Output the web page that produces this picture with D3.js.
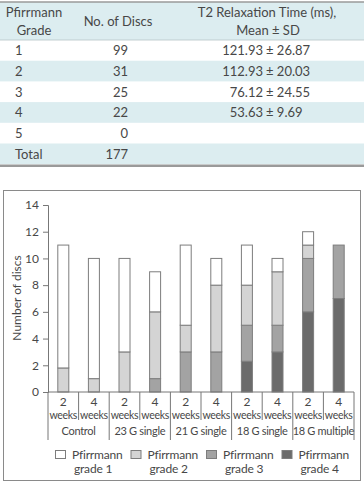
<!DOCTYPE html>
<html>
<head>
<meta charset="utf-8">
<script src="https://cdn.jsdelivr.net/npm/d3@7"></script>
<style>
  body { margin: 0; background: #fff; }
  text { font-family: Lato, "Noto Sans", sans-serif; fill: #474747; }
</style>
</head>
<body>
<div id="chart"></div>
<script>
// table data
const tableGrades = ["1", "2", "3", "4", "5", "Total"];
const tableDiscs = [99, 31, 25, 22, 0, 177];
const tableMeans = ["121.93", "112.93", "76.12", "53.63", "", ""];
const tableSDs = ["26.87", "20.03", "24.55", "9.69", "", ""];

// chart data
const weeks = ["2", "4", "2", "4", "2", "4", "2", "4", "2", "4"];
const groups = ["Control", "23 G single", "21 G single", "18 G single", "18 G multiple"];
const grades = ["Pfirrmann grade 1", "Pfirrmann grade 2", "Pfirrmann grade 3", "Pfirrmann grade 4"];
const grade1 = [9.2, 9, 7, 3, 6, 2, 3, 1, 1, 0];
const grade2 = [1.8, 1, 3, 5, 2, 5, 3, 4, 1, 0];
const grade3 = [0, 0, 0, 1, 3, 3, 2.7, 2, 4, 4];
const grade4 = [0, 0, 0, 0, 0, 0, 2.3, 3, 6, 7];
const yTicks = [0, 2, 4, 6, 8, 10, 12, 14];

const colors = ["#ffffff", "#d4d4d4", "#a3a3a3", "#6b6b6b"];
const W = 364, H = 484;

const svg = d3.select("#chart").append("svg")
    .attr("width", W)
    .attr("height", H);

// ---------- table ----------
const tbl = svg.append("g");
const rowH = 20.7, headTop = 2, headBottom = 40;
const blue = "#dcedf0";

tbl.append("rect").attr("x", 0).attr("y", headTop).attr("width", W).attr("height", headBottom - headTop).attr("fill", blue);
tableGrades.forEach((g, i) => {
    if (i % 2 == 1) {
        tbl.append("rect").attr("x", 0).attr("y", headBottom + i * rowH)
            .attr("width", W).attr("height", rowH).attr("fill", blue);
    }
});
tbl.append("line").attr("x1", 0).attr("x2", W).attr("y1", headTop).attr("y2", headTop)
    .attr("stroke", "#9a9a9a").attr("stroke-width", 1.5);
tbl.append("line").attr("x1", 0).attr("x2", W).attr("y1", headBottom).attr("y2", headBottom)
    .attr("stroke", "#b5c4c7").attr("stroke-width", 0.8);
const tblBottom = headBottom + tableGrades.length * rowH + 1.5;
tbl.append("line").attr("x1", 0).attr("x2", W).attr("y1", tblBottom).attr("y2", tblBottom)
    .attr("stroke", "#9a9a9a").attr("stroke-width", 2.5);

const headFont = "13px";
tbl.append("text").attr("x", 34).attr("y", 17).attr("text-anchor", "middle").style("font-size", headFont).text("Pfirrmann");
tbl.append("text").attr("x", 34).attr("y", 35).attr("text-anchor", "middle").style("font-size", headFont).text("Grade");
tbl.append("text").attr("x", 118).attr("y", 26).attr("text-anchor", "middle").style("font-size", headFont).text("No. of Discs");
tbl.append("text").attr("x", 267).attr("y", 17).attr("text-anchor", "middle").style("font-size", headFont).text("T2 Relaxation Time (ms),");
tbl.append("text").attr("x", 268).attr("y", 35).attr("text-anchor", "middle").style("font-size", headFont).text("Mean ± SD");

tableGrades.forEach((g, i) => {
    const ty = headBottom + i * rowH + rowH / 2 + 5;
    tbl.append("text").attr("x", 15).attr("y", ty).style("font-size", headFont).text(g);
    tbl.append("text").attr("x", 128).attr("y", ty).attr("text-anchor", "end").style("font-size", headFont).text(tableDiscs[i]);
    if (tableMeans[i] != "") {
        tbl.append("text").attr("x", 263).attr("y", ty).attr("text-anchor", "end").style("font-size", headFont).text(tableMeans[i]);
        tbl.append("text").attr("x", 266).attr("y", ty).style("font-size", headFont).text("± " + tableSDs[i]);
    }
});

// ---------- chart ----------
svg.append("rect")
    .attr("x", 3.5).attr("y", 190.5)
    .attr("width", 357).attr("height", 290)
    .attr("fill", "none").attr("stroke", "#8a8a8a");

const x = d3.scaleBand()
    .domain(d3.range(weeks.length))
    .range([48, 354]);

const y = d3.scaleLinear()
    .domain([0, 14])
    .range([392, 205]);

const g = svg.append("g");

// stacked data, grade 4 at the bottom
const rows = weeks.map((w, i) => ({
    i: i, g4: grade4[i], g3: grade3[i], g2: grade2[i], g1: grade1[i]
}));
const stack = d3.stack().keys(["g4", "g3", "g2", "g1"]);
const series = stack(rows);
const colorOf = { g1: colors[0], g2: colors[1], g3: colors[2], g4: colors[3] };

const barW = 11;
series.forEach(s => {
    g.append("g").selectAll("rect")
        .data(s.filter(d => d[1] - d[0] > 0))
        .enter()
        .append("rect")
        .attr("x", d => x(d.data.i) + (x.bandwidth() - barW) / 2)
        .attr("y", d => y(d[1]))
        .attr("width", barW)
        .attr("height", d => y(d[0]) - y(d[1]))
        .attr("fill", colorOf[s.key])
        .attr("stroke", "#7d7d7d")
        .attr("stroke-width", 1);
});

// y axis
const yAxis = g.append("g")
    .attr("transform", "translate(48,0)")
    .call(d3.axisLeft(y).tickValues(yTicks).tickSize(5).tickPadding(4));
yAxis.select(".domain").attr("stroke", "#777");
yAxis.selectAll(".tick line").attr("stroke", "#777");
yAxis.selectAll(".tick text").style("font-size", "12px").attr("fill", "#474747");

g.append("text")
    .attr("transform", "translate(21,298) rotate(-90)")
    .attr("text-anchor", "middle")
    .style("font-size", "12px")
    .text("Number of discs");

// baseline and category axis
const y0 = y(0);
g.append("line").attr("x1", 48).attr("x2", 354).attr("y1", y0).attr("y2", y0).attr("stroke", "#777");
d3.range(weeks.length + 1).forEach(k => {
    const xx = k < weeks.length ? x(k) : x.range()[1];
    const isGroup = k % 2 == 0;
    g.append("line")
        .attr("x1", xx).attr("x2", xx)
        .attr("y1", y0).attr("y2", y0 + (isGroup ? 48 : 28))
        .attr("stroke", "#777");
});
const catStyle = sel => sel.attr("text-anchor", "middle").style("font-size", "10.5px").style("letter-spacing", "-0.3px");
weeks.forEach((w, i) => {
    const cx = x(i) + x.bandwidth() / 2;
    g.append("text").attr("x", cx).attr("y", y0 + 14).style("font-size", "12px").attr("text-anchor", "middle").text(w);
    g.append("text").attr("x", cx).attr("y", y0 + 27).call(catStyle).text("weeks");
});
groups.forEach((gr, j) => {
    const cx = x(j * 2) + x.bandwidth();
    g.append("text").attr("x", cx).attr("y", y0 + 43).call(catStyle).style("font-size", "11px").text(gr);
});

// legend
const legend = g.append("g");
grades.forEach((name, k) => {
    const lx = 55 + k * 75.5;
    legend.append("rect")
        .attr("x", lx + 0.5).attr("y", 450.5)
        .attr("width", 10).attr("height", 8)
        .attr("fill", colors[k]).attr("stroke", "#7d7d7d");
    const parts = name.split(" ");
    legend.append("text").attr("x", lx + 17).attr("y", 459).style("font-size", "12px").style("letter-spacing", "-0.2px").text(parts[0]);
    legend.append("text").attr("x", lx + 19).attr("y", 473).style("font-size", "12px").style("letter-spacing", "-0.2px").text(parts[1] + " " + parts[2]);
});
</script>
</body>
</html>
